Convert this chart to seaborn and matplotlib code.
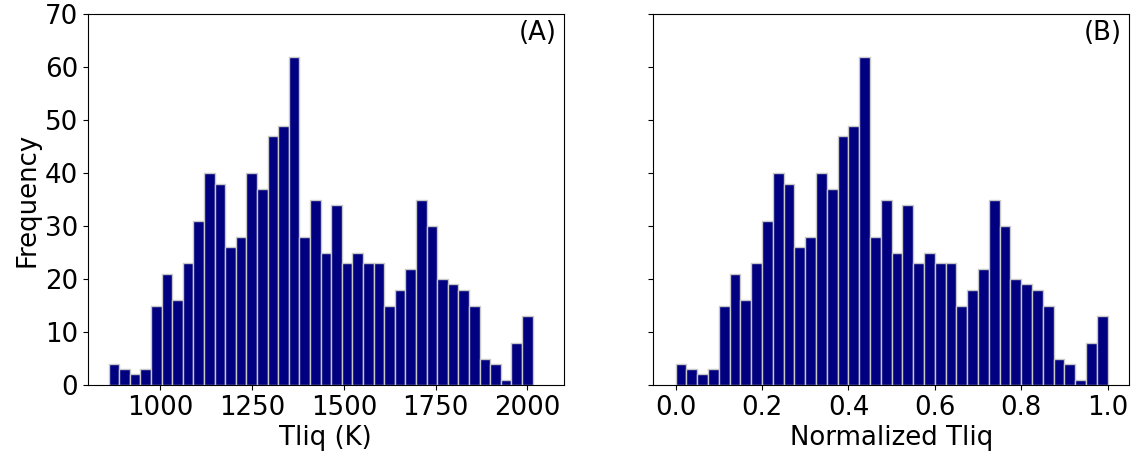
import numpy as np
import pandas as pd
import matplotlib
matplotlib.use("Agg")
import matplotlib.pyplot as plt
import seaborn as sns

# Histogram counts (40 bins)
counts = [4, 3, 2, 3, 15, 21, 16, 23, 31, 40,
          38, 26, 28, 40, 37, 47, 49, 62, 28, 35,
          25, 34, 23, 25, 23, 23, 15, 18, 22, 35,
          30, 20, 19, 18, 15, 5, 4, 1, 8, 13]
tliq_min = 859.0
tliq_max = 2014.5
norm_min = 0.0
norm_max = 1.0
panel_labels = ["(A)", "(B)"]
x_labels = ["Tliq (K)", "Normalized Tliq"]
y_label = "Frequency"
y_ticks = [0, 10, 20, 30, 40, 50, 60, 70]

n_bins = len(counts)
edges_a = np.linspace(tliq_min, tliq_max, n_bins + 1)
edges_b = np.linspace(norm_min, norm_max, n_bins + 1)
df = pd.DataFrame({
    "tliq": (edges_a[:-1] + edges_a[1:]) / 2,
    "norm": (edges_b[:-1] + edges_b[1:]) / 2,
    "count": counts,
})

plt.rcParams["font.family"] = ["DejaVu Sans"]
fs = 18.7

fig, axes = plt.subplots(1, 2, figsize=(11.37, 4.59), dpi=100, sharey=True)
fig.subplots_adjust(left=0.0771, right=0.9932, top=0.9688, bottom=0.1612, wspace=0.188)

for ax, col, rng, lab, xl in zip(axes, ["tliq", "norm"],
                                 [(tliq_min, tliq_max), (norm_min, norm_max)],
                                 panel_labels, x_labels):
    sns.histplot(data=df, x=col, weights="count", bins=n_bins, binrange=rng, ax=ax,
                 color="#000080", edgecolor="#c8c8c8", linewidth=1.0, alpha=1.0)
    ax.set_xlabel(xl, fontsize=fs, labelpad=3)
    ax.tick_params(labelsize=fs)
    ax.text(0.985, 0.985, lab, transform=ax.transAxes, ha="right", va="top", fontsize=fs)

axes[0].set_xlim(802, 2099)
axes[0].set_xticks([1000, 1250, 1500, 1750, 2000])
axes[1].set_xlim(-0.052, 1.05)
axes[1].set_xticks([0.0, 0.2, 0.4, 0.6, 0.8, 1.0])
axes[0].set_ylim(0, 70)
axes[0].set_yticks(y_ticks)
axes[0].set_ylabel(y_label, fontsize=fs, labelpad=3)
axes[1].set_ylabel("")
axes[1].tick_params(labelleft=False)

fig.savefig("out.png", dpi=100)
